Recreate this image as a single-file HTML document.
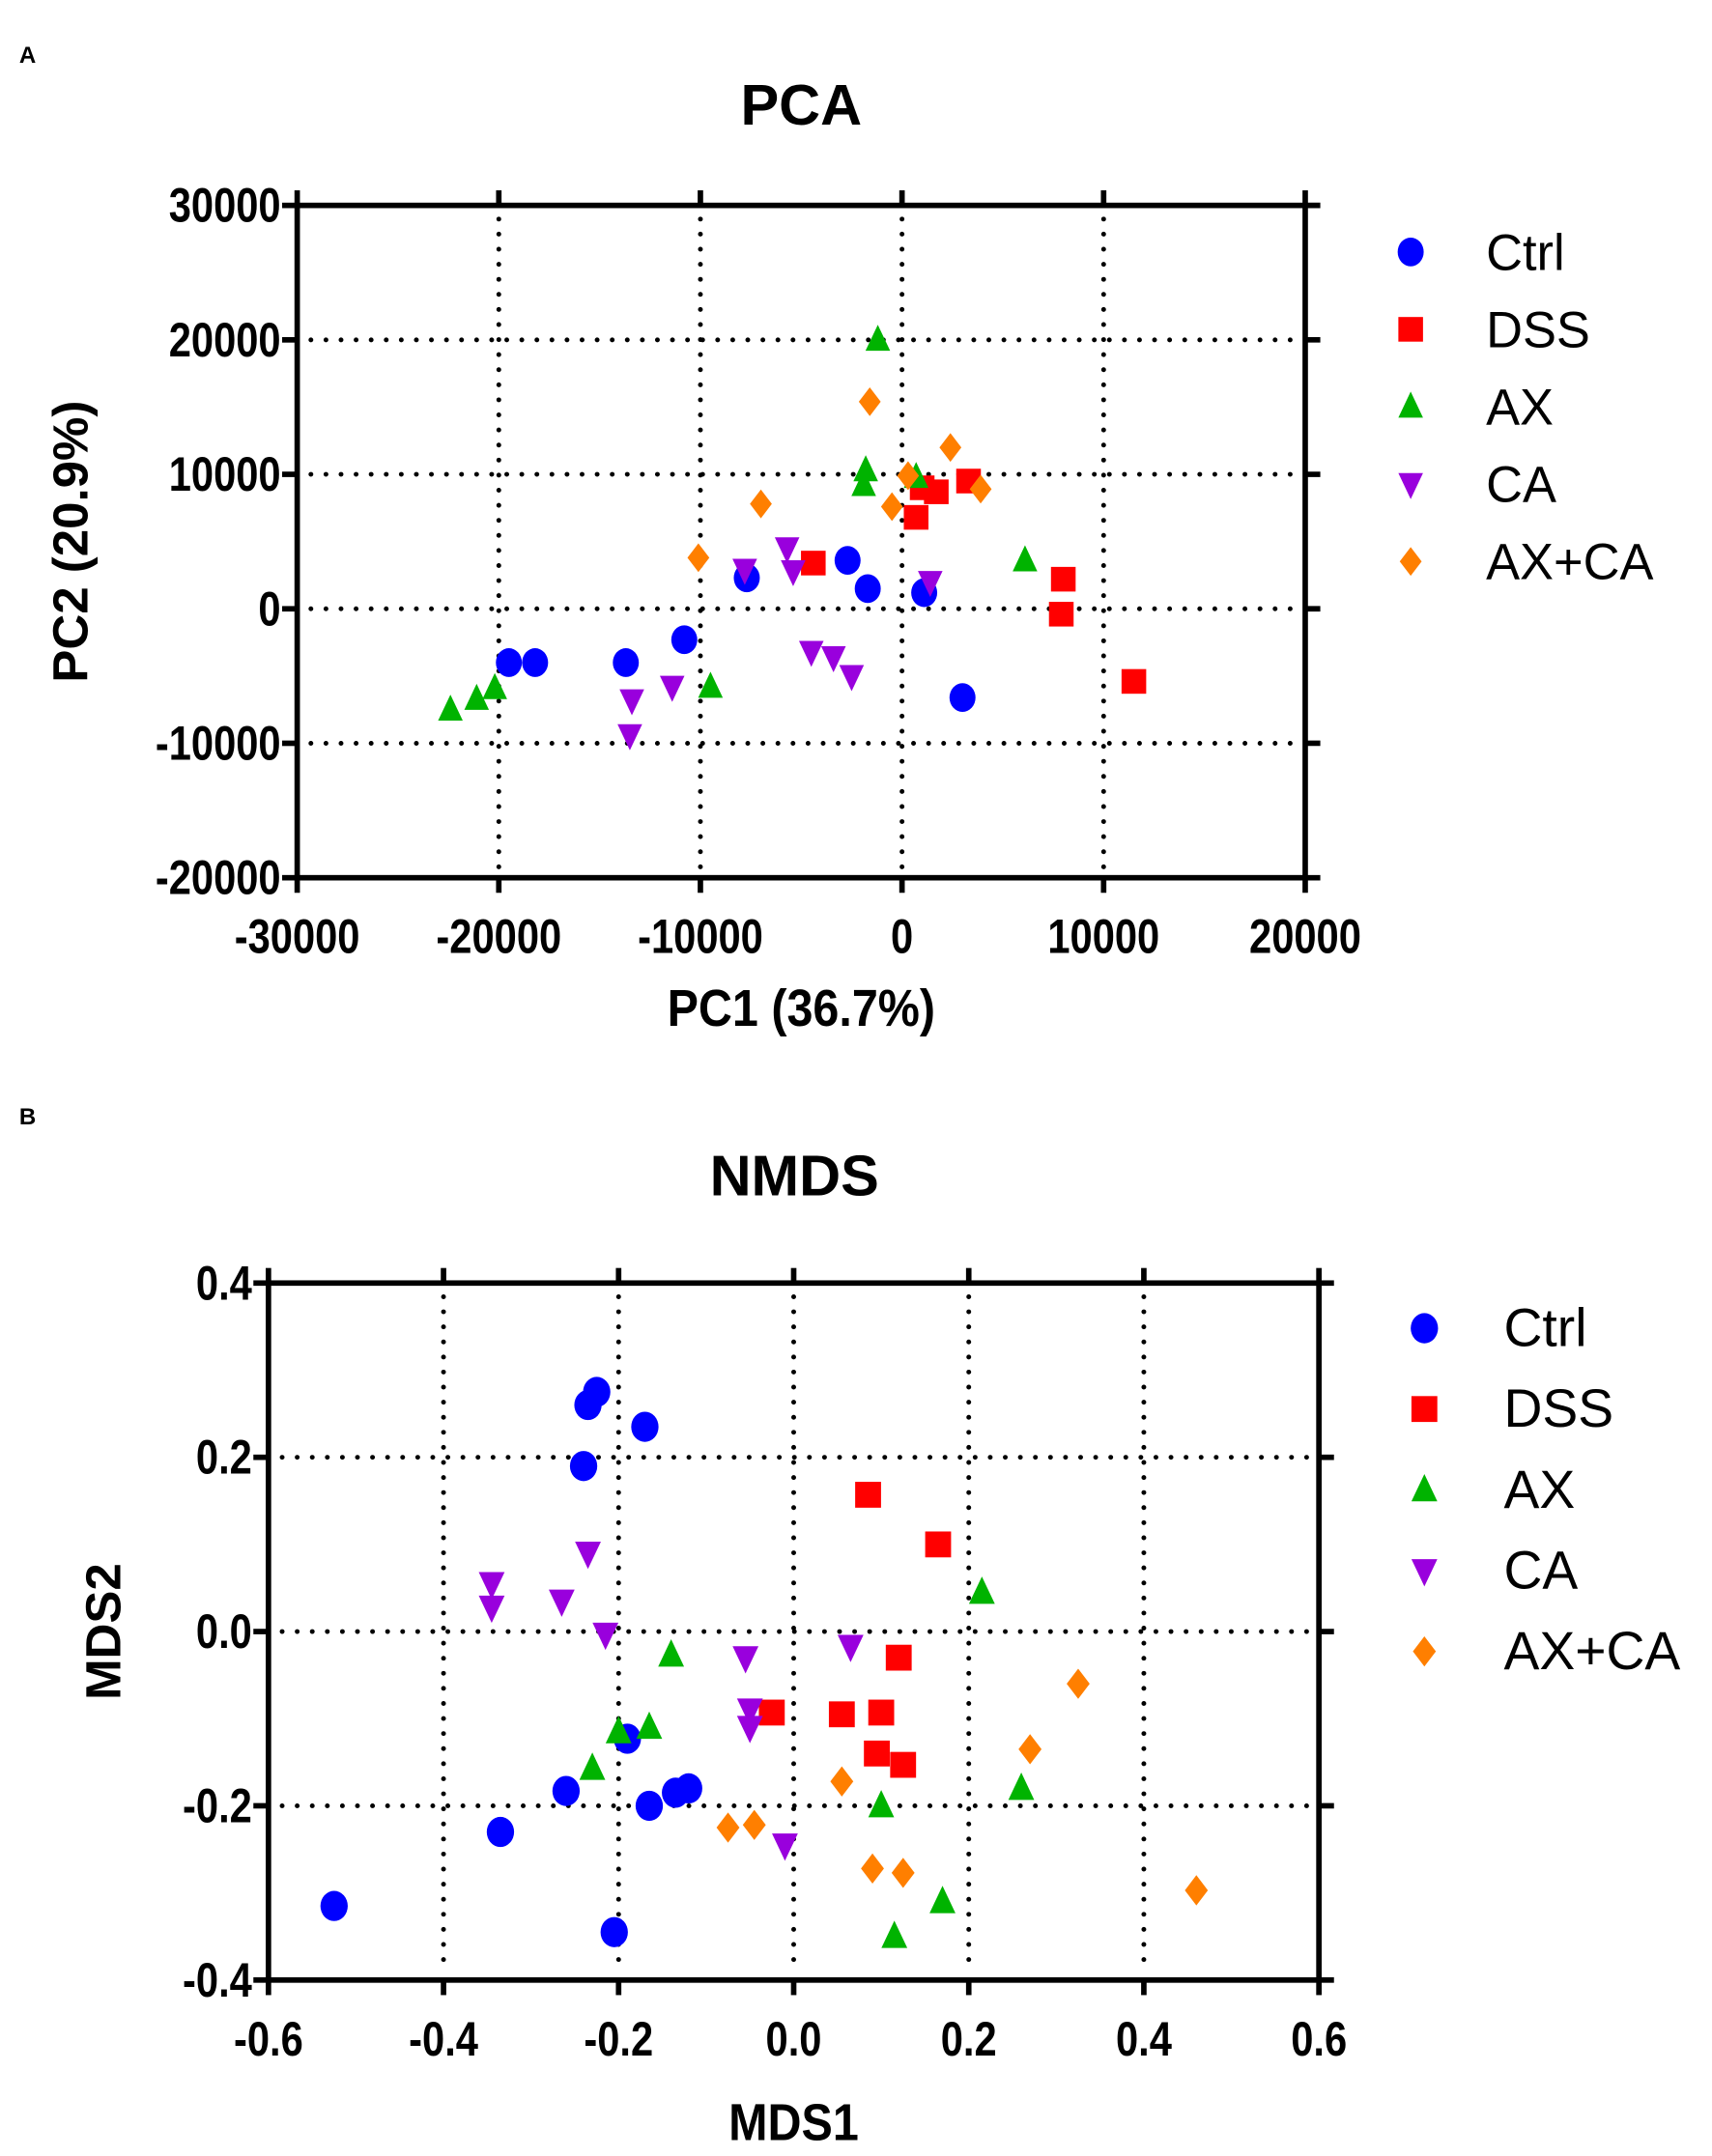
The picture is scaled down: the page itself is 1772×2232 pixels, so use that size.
<!DOCTYPE html>
<html><head><meta charset="utf-8"><style>
html,body{margin:0;padding:0;background:#fff}
svg{display:block}
text{font-family:"Liberation Sans",Arial,sans-serif}
</style></head><body>
<svg id="fig" width="1772" height="2232" viewBox="0 0 1250 1574.5" preserveAspectRatio="none" xmlns="http://www.w3.org/2000/svg">
<text x="14" y="46" font-size="17" font-weight="bold">A</text>
<text x="14" y="821" font-size="17" font-weight="bold">B</text>
<text x="585" y="91" font-size="42" font-weight="bold" text-anchor="middle">PCA</text>
<text x="580" y="873" font-size="42" font-weight="bold" text-anchor="middle">NMDS</text>
<g id="pca"></g>
<g id="nmds"></g>
</svg>
<script>
// PCA data
const groups=["Ctrl","DSS","AX","CA","AX+CA"];
const pcaCtrlX=[-19500,-18200,-13700,-10800,-7700,-2700,-1700,1100,3000];
const pcaCtrlY=[-4000,-4000,-4000,-2300,2300,3600,1500,1200,-6600];
const pcaDssX=[-4400,700,1000,1700,3300,7900,8000,11500];
const pcaDssY=[3400,6800,9000,8700,9500,-400,2200,-5400];
const pcaAxX=[-22400,-21100,-20200,-9500,-1900,-1800,-1200,700,6100];
const pcaAxY=[-7500,-6700,-5900,-5800,9200,10300,20000,9800,3600];
const pcaCaX=[-13400,-13500,-11400,-7800,-5700,-5400,-4500,-3400,-2500,1400];
const pcaCaY=[-6800,-9400,-5800,2900,4500,2800,-3200,-3600,-5000,2000];
const pcaAxcaX=[-10100,-7000,-1600,-500,300,2400,3900];
const pcaAxcaY=[3800,7800,15400,7600,9900,12000,8900];
const pcaXTicks=[-30000,-20000,-10000,0,10000,20000];
const pcaYTicks=[-20000,-10000,0,10000,20000,30000];
// NMDS data
const nmCtrlX=[-0.525,-0.335,-0.26,-0.24,-0.235,-0.225,-0.17,-0.19,-0.165,-0.135,-0.12,-0.205];
const nmCtrlY=[-0.315,-0.23,-0.183,0.19,0.26,0.275,0.235,-0.123,-0.2,-0.185,-0.18,-0.345];
const nmDssX=[0.085,0.165,0.12,-0.025,0.055,0.1,0.095,0.125];
const nmDssY=[0.157,0.1,-0.03,-0.093,-0.095,-0.093,-0.14,-0.153];
const nmAxX=[0.215,-0.14,-0.2,-0.165,-0.23,0.1,0.26,0.17,0.115];
const nmAxY=[0.045,-0.027,-0.115,-0.11,-0.157,-0.2,-0.18,-0.31,-0.35];
const nmCaX=[-0.345,-0.345,-0.265,-0.235,-0.215,-0.055,0.065,-0.05,-0.05,-0.01];
const nmCaY=[0.055,0.028,0.035,0.09,-0.003,-0.03,-0.017,-0.09,-0.11,-0.245];
const nmAxcaX=[0.325,0.27,0.055,-0.075,-0.045,0.09,0.125,0.46];
const nmAxcaY=[-0.06,-0.135,-0.172,-0.225,-0.222,-0.272,-0.277,-0.297];
const nmXTicks=[-0.6,-0.4,-0.2,0.0,0.2,0.4,0.6];
const nmYTicks=[-0.4,-0.2,0.0,0.2,0.4];

const NS="http://www.w3.org/2000/svg";
const colors=["#0000ff","#ff0000","#00b300","#9900dd","#ff7f00"];
function mk(tag,attrs,parent){const e=document.createElementNS(NS,tag);for(const k in attrs)e.setAttribute(k,attrs[k]);parent.appendChild(e);return e;}
function marker(g,type,cx,cy,s,name){
  let e;
  const c=colors[type];
  if(type===0) e=mk('ellipse',{cx:cx,cy:cy,rx:s*0.95,ry:s*1.05,fill:c},g);
  else if(type===1) e=mk('rect',{x:cx-s*0.9,y:cy-s*0.9,width:s*1.8,height:s*1.8,fill:c},g);
  else if(type===2) e=mk('polygon',{points:`${cx},${cy-s*1.1} ${cx-s*0.9},${cy+s*0.8} ${cx+s*0.9},${cy+s*0.8}`,fill:c},g);
  else if(type===3) e=mk('polygon',{points:`${cx},${cy+s*1.1} ${cx-s*0.9},${cy-s*0.8} ${cx+s*0.9},${cy-s*0.8}`,fill:c},g);
  else e=mk('polygon',{points:`${cx},${cy-s*1.05} ${cx-s*0.8},${cy} ${cx},${cy+s*1.05} ${cx+s*0.8},${cy}`,fill:c},g);
  
  
}
function chart(o){
  const g=document.getElementById(o.id);
  const sx=v=>o.L+(v-o.xmin)/(o.xmax-o.xmin)*(o.R-o.L);
  const sy=v=>o.B-(v-o.ymin)/(o.ymax-o.ymin)*(o.B-o.T);
  o.xt.forEach(v=>{if(v>o.xmin&&v<o.xmax){const l=mk('line',{x1:sx(v),x2:sx(v),y1:o.T+10,y2:o.B-6,stroke:'#000','stroke-width':3.5,'stroke-dasharray':'0 11','stroke-linecap':'round'},g);
    }});
  o.yt.forEach(v=>{if(v>o.ymin&&v<o.ymax){const l=mk('line',{x1:o.L+10,x2:o.R-6,y1:sy(v),y2:sy(v),stroke:'#000','stroke-width':3.5,'stroke-dasharray':'0 11','stroke-linecap':'round'},g);
    }});
  const f=mk('rect',{x:o.L,y:o.T,width:o.R-o.L,height:o.B-o.T,fill:'none',stroke:'#000','stroke-width':4},g);
  
  o.xt.forEach((v,i)=>{
    let t=mk('line',{x1:sx(v),x2:sx(v),y1:o.B,y2:o.B+11,stroke:'#000','stroke-width':4},g);
    
    t=mk('line',{x1:sx(v),x2:sx(v),y1:o.T,y2:o.T-11,stroke:'#000','stroke-width':4},g);
    
    const tx=mk('text',{x:0,y:0,'font-size':o.fs,'font-weight':'bold','text-anchor':'middle',transform:`translate(${sx(v)},${o.B+55}) scale(0.84,1)`},g);
    tx.textContent=o.xl(v);
    
  });
  o.yt.forEach(v=>{
    let t=mk('line',{x1:o.L-11,x2:o.L,y1:sy(v),y2:sy(v),stroke:'#000','stroke-width':4},g);
    
    t=mk('line',{x1:o.R,x2:o.R+11,y1:sy(v),y2:sy(v),stroke:'#000','stroke-width':4},g);
    
    const tx=mk('text',{x:0,y:0,'font-size':o.fs,'font-weight':'bold','text-anchor':'end',transform:`translate(${o.L-12},${sy(v)+12}) scale(0.84,1)`},g);
    tx.textContent=o.yl(v);
    
  });
  let at=mk('text',{x:0,y:0,'font-size':38,'font-weight':'bold','text-anchor':'middle',transform:`translate(${(o.L+o.R)/2},${o.xty}) scale(0.9,1)`},g);
  at.textContent=o.xtitle;
  at=mk('text',{x:0,y:0,'font-size':36,'font-weight':'bold','text-anchor':'middle',transform:`translate(${o.ytx},${(o.T+o.B)/2}) rotate(-90)`},g);
  at.textContent=o.ytitle;
  o.series.forEach((s,k)=>{s[0].forEach((x,i)=>marker(g,k,sx(x),sy(s[1][i]),o.ms,'point-'+groups[k].toLowerCase().replace('+','-')));});
  groups.forEach((n,k)=>{
    const y=o.lg.y0+k*o.lg.dy;
    marker(g,k,o.lg.mx,y,o.ms,'legend-marker');
    const t=mk('text',{x:o.lg.tx,y:y+13,'font-size':o.lg.fs},g);
    t.textContent=n;
  });
}
chart({id:'pca',L:217,R:953,T:150,B:641,xmin:-30000,xmax:20000,ymin:-20000,ymax:30000,xt:pcaXTicks,yt:pcaYTicks,
  xl:v=>String(v),yl:v=>String(v),fs:35,ms:10,xtitle:'PC1 (36.7%)',ytitle:'PC2 (20.9%)',xty:749,ytx:64,
  series:[[pcaCtrlX,pcaCtrlY],[pcaDssX,pcaDssY],[pcaAxX,pcaAxY],[pcaCaX,pcaCaY],[pcaAxcaX,pcaAxcaY]],
  lg:{y0:184,dy:56.5,mx:1030,tx:1085,fs:37}});
chart({id:'nmds',L:196,R:963,T:937,B:1446,xmin:-0.6,xmax:0.6,ymin:-0.4,ymax:0.4,xt:nmXTicks,yt:nmYTicks,
  xl:v=>v.toFixed(1),yl:v=>v.toFixed(1),fs:35,ms:10.5,xtitle:'MDS1',ytitle:'MDS2',xty:1563,ytx:88,
  series:[[nmCtrlX,nmCtrlY],[nmDssX,nmDssY],[nmAxX,nmAxY],[nmCaX,nmCaY],[nmAxcaX,nmAxcaY]],
  lg:{y0:970,dy:59,mx:1040,tx:1098,fs:39}});
</script>
</body></html>
